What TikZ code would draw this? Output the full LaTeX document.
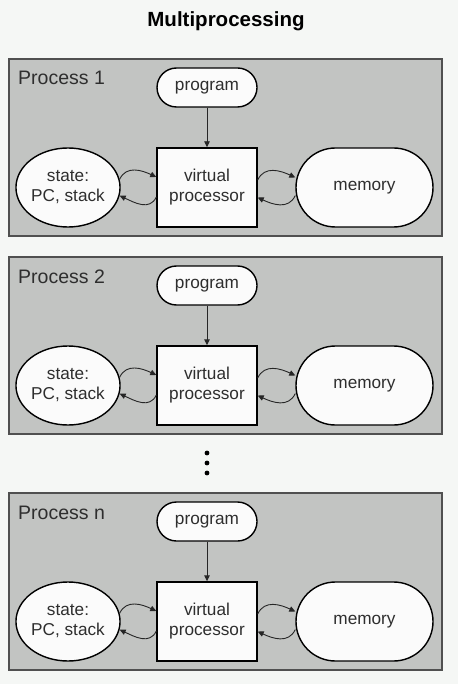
\documentclass[tikz,border=0pt]{standalone}
\usepackage{fontspec}
\setmainfont{Liberation Sans}
\usetikzlibrary{shapes.geometric,shapes.misc,arrows.meta}
\definecolor{bgc}{HTML}{F5F7F5}
\definecolor{boxc}{HTML}{C2C4C2}
\definecolor{boxline}{HTML}{505050}
\definecolor{nodec}{HTML}{FBFBFB}
\definecolor{txtc}{HTML}{2E2E2E}
\tikzset{
  procbox/.style={draw=boxline,fill=boxc,line width=1.3pt},
  nd/.style={draw=black,fill=nodec,line width=1.4pt,inner sep=0pt,text=txtc,
    font=\fontsize{17.2}{20}\selectfont,align=center},
  progbox/.style={nd,rounded rectangle,minimum width=100pt,minimum height=39pt},
  vpbox/.style={nd,rectangle,minimum width=100pt,minimum height=79pt},
  statebox/.style={nd,ellipse,minimum width=98pt,minimum height=79pt},
  membox/.style={nd,rounded rectangle,minimum width=137pt,minimum height=79pt},
  lbl/.style={anchor=base west,inner sep=0pt,text=txtc,font=\fontsize{19.5}{22}\selectfont},
  conn/.style={draw=black!85,line width=0.9pt,-{Triangle[length=6pt,width=5.5pt]}},
}
\begin{document}
\begin{tikzpicture}[x=1pt,y=-1pt]
\fill[bgc] (0,0) rectangle (458,684);
\useasboundingbox (0,0) rectangle (458,684);
\node[anchor=base,inner sep=0pt,text=black,font=\fontsize{20.5}{24}\selectfont\bfseries] (title) at (226,27) {Multiprocessing};
\foreach \o/\lab/\n in {59/1/a,257/2/b,493/n/c}{
  \draw[procbox] (9,\o) rectangle (442,\o+177);
  \node[lbl] (lab\n) at (18,\o+26) {Process \lab};
  \node[progbox] (prog\n) at (207,\o+28.5) {program};
  \node[vpbox] (vp\n) at (207,\o+128.5) {virtual\\processor};
  \node[statebox] (st\n) at (68,\o+128.5) {state:\\PC, stack};
  \node[membox] (mem\n) at (364.5,\o+128.5) {memory};
  \draw[conn] (prog\n.south) -- (vp\n.north);
  \draw[conn] (st\n.9) to[out=65,in=155,looseness=1.1] ([yshift=10.5pt]vp\n.west);
  \draw[conn] ([yshift=-9.5pt]vp\n.west) to[out=245,in=-25,looseness=1.1] (st\n.-9);
  \draw[conn] ([yshift=7.5pt]vp\n.east) to[out=65,in=155,looseness=1.1] ([yshift=10pt]mem\n.west);
  \draw[conn] ([yshift=-8pt]mem\n.west) to[out=245,in=-25,looseness=1.1] ([yshift=-10pt]vp\n.east);
}
\foreach \yy/\k in {453/1,463/2,473/3}{
  \fill[black] (207,\yy) circle (2.4pt) coordinate (dot\k);
}
\end{tikzpicture}
\end{document}
